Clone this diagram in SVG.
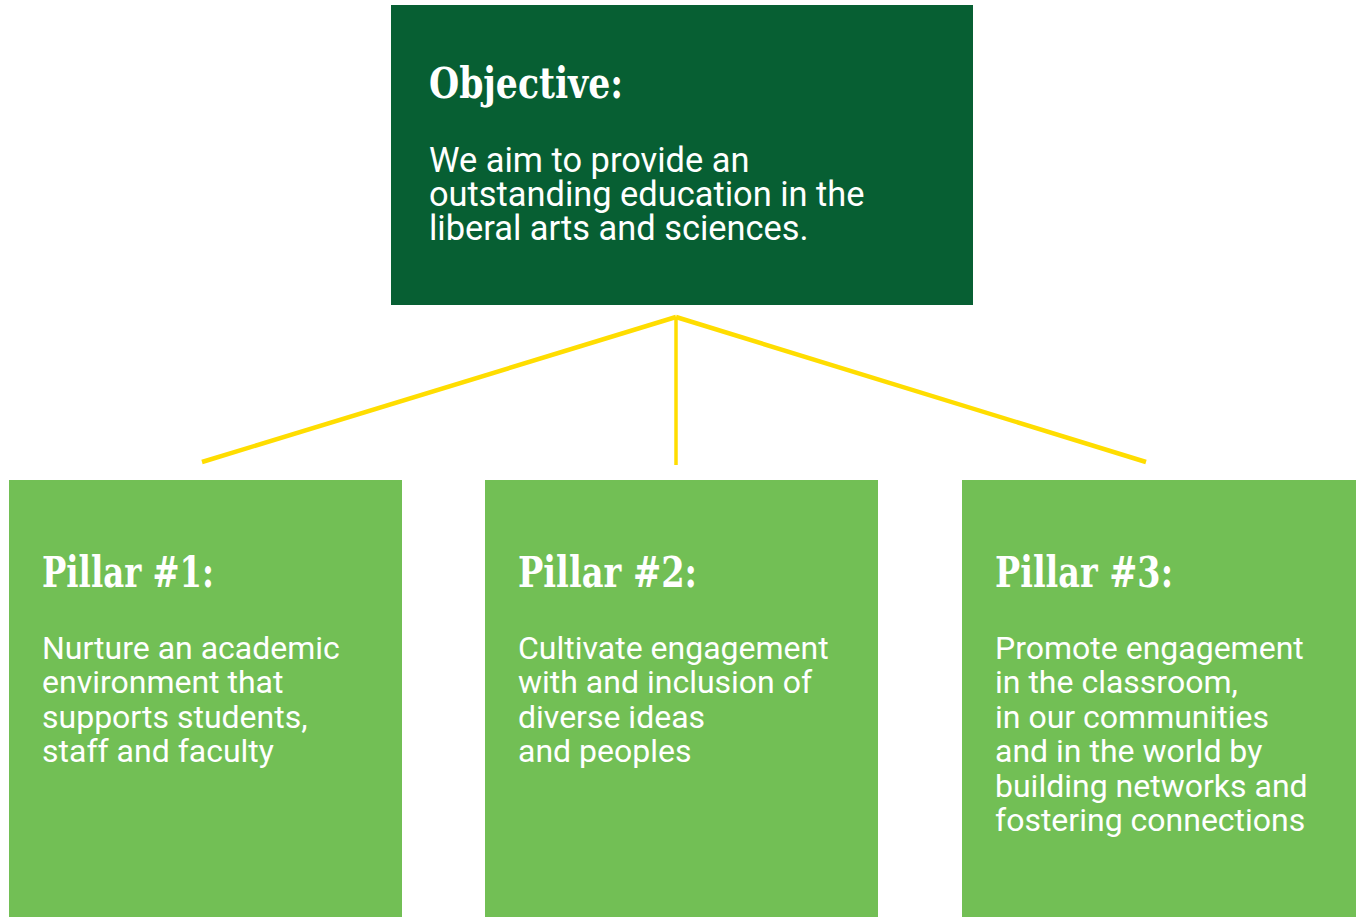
<svg xmlns="http://www.w3.org/2000/svg" width="1356" height="917" viewBox="0 0 1356 917">
<style>
.obj{fill:#075F33}
.pil{fill:#72BF55}
.hd{font-family:"Roboto Slab","DejaVu Serif",serif;font-weight:bold;font-size:42px;fill:#fff}
.bd{font-family:Roboto,"Liberation Sans",sans-serif;font-size:32px;fill:#fff}
.bo{font-size:34.4px}
.ln{stroke:#FFDD00;fill:none}
</style>
<rect width="1356" height="917" fill="#fff"/>
<g id="objective">
<rect class="obj" x="391" y="5" width="582" height="300"/>
<text class="hd" x="429" y="98" textLength="194" lengthAdjust="spacingAndGlyphs">Objective:</text>
<text class="bd bo" x="429"><tspan x="429" y="172">We aim to provide an</tspan><tspan x="429" y="206">outstanding education in the</tspan><tspan x="429" y="240">liberal arts and sciences.</tspan></text>
</g>
<g id="connectors">
<line class="ln" x1="202" y1="462" x2="676" y2="317" stroke-width="4.5"/>
<line class="ln" x1="1146" y1="462" x2="676" y2="317" stroke-width="4.5"/>
<line class="ln" x1="676" y1="317" x2="676" y2="465" stroke-width="3.5"/>
</g>
<g id="pillar1">
<rect class="pil" x="9" y="480" width="393" height="437"/>
<text class="hd" x="42" y="587" textLength="172" lengthAdjust="spacingAndGlyphs">Pillar #1:</text>
<text class="bd"><tspan x="42" y="659">Nurture an academic</tspan><tspan x="42" y="693">environment that</tspan><tspan x="42" y="728">supports students,</tspan><tspan x="42" y="762">staff and faculty</tspan></text>
</g>
<g id="pillar2">
<rect class="pil" x="485" y="480" width="393" height="437"/>
<text class="hd" x="518" y="587" textLength="179" lengthAdjust="spacingAndGlyphs">Pillar #2:</text>
<text class="bd"><tspan x="518" y="659">Cultivate engagement</tspan><tspan x="518" y="693">with and inclusion of</tspan><tspan x="518" y="728">diverse ideas</tspan><tspan x="518" y="762">and peoples</tspan></text>
</g>
<g id="pillar3">
<rect class="pil" x="962" y="480" width="394" height="437"/>
<text class="hd" x="995" y="587" textLength="178" lengthAdjust="spacingAndGlyphs">Pillar #3:</text>
<text class="bd"><tspan x="995" y="659">Promote engagement</tspan><tspan x="995" y="693">in the classroom,</tspan><tspan x="995" y="728">in our communities</tspan><tspan x="995" y="762">and in the world by</tspan><tspan x="995" y="797">building networks and</tspan><tspan x="995" y="831">fostering connections</tspan></text>
</g>
</svg>
